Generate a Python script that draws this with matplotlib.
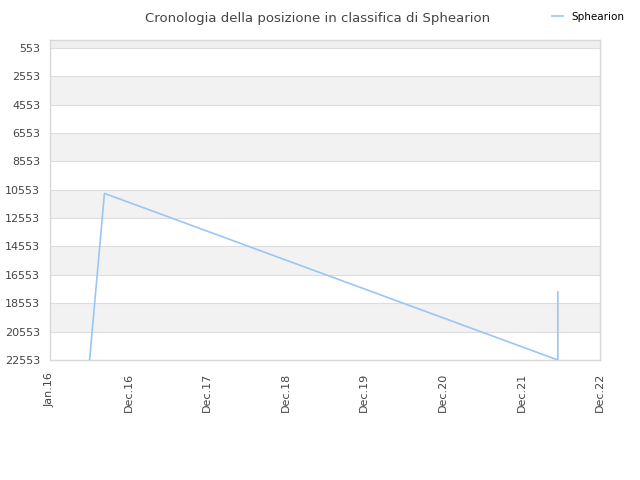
import numpy as np
import pandas as pd
import matplotlib
matplotlib.use("Agg")
import matplotlib.pyplot as plt

# dati
date = pd.to_datetime(["2016-07-03", "2016-09-10", "2022-06-18", "2022-06-18"])
posizione = [22553, 10811, 22553, 17755]

y_ticks = [553, 2553, 4553, 6553, 8553, 10553, 12553, 14553, 16553, 18553, 20553, 22553]
x_ticks = pd.to_datetime(["2016-01-01", "2016-12-31", "2017-12-31", "2018-12-31",
                          "2019-12-31", "2020-12-31", "2021-12-31", "2022-12-31"])
x_labels = ["Jan.16", "Dec.16", "Dec.17", "Dec.18", "Dec.19", "Dec.20", "Dec.21", "Dec.22"]

fig = plt.figure(figsize=(6.4, 4.8), dpi=100)
ax = fig.add_axes([50 / 640, 1 - 360 / 480, 550 / 640, 320 / 480])

# bande alternate
ax.axhspan(0, 553, color="#efefef", zorder=0, lw=0)
for i in range(len(y_ticks) - 1):
    if i % 2 == 1:
        ax.axhspan(y_ticks[i], y_ticks[i + 1], color="#f2f2f2", zorder=0, lw=0)
for v in y_ticks:
    ax.axhline(v, color="#dddddd", lw=0.8, zorder=1)

ax.plot(date, posizione, color="#99c7f5", lw=1.2, label="Sphearion", zorder=3)

ax.set_ylim(22553, 0)
ax.set_xlim(x_ticks[0], x_ticks[-1])
ax.set_yticks(y_ticks)
ax.set_yticklabels([str(v) for v in y_ticks])
ax.set_xticks(x_ticks)
ax.set_xticklabels(x_labels, rotation=90)
ax.tick_params(axis="y", length=0, labelsize=8, colors="#444444", pad=7)
ax.tick_params(axis="x", length=0, labelsize=8, colors="#444444", pad=9)

for s in ax.spines.values():
    s.set_color("#d8d8d8")
    s.set_linewidth(1)

fig.text(0.496, 0.975, "Cronologia della posizione in classifica di Sphearion",
         ha="center", va="top", fontsize=9.5, color="#444444")

fig.legend(loc="upper right", bbox_to_anchor=(0.99, 0.995), frameon=False,
           fontsize=7.5, handlelength=1.0, handletextpad=0.8)

fig.savefig("out.png", dpi=100)
